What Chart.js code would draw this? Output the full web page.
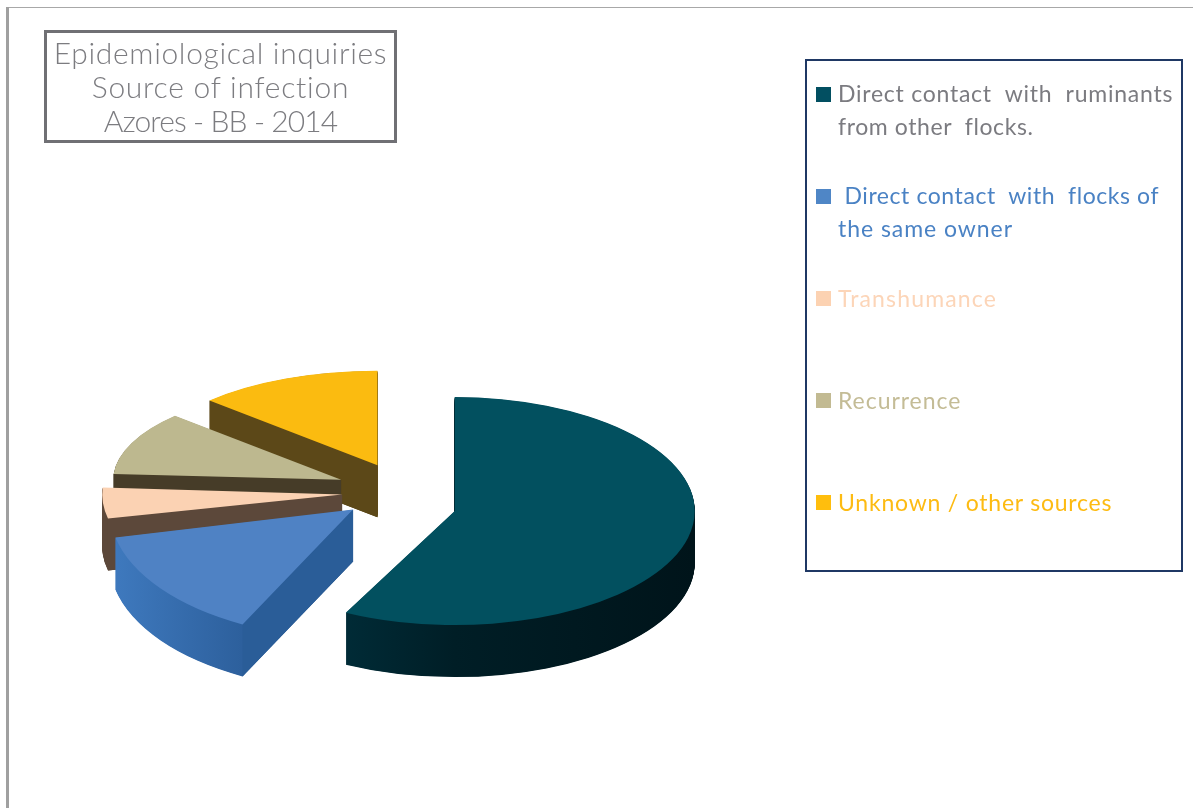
<!DOCTYPE html>
<html>
<head>
<meta charset="utf-8">
<script src="https://cdn.jsdelivr.net/npm/chart.js@4"></script>
<style>
html,body{margin:0;padding:0;background:#fff;overflow:hidden}
#page{position:relative;width:1193px;height:808px;overflow:hidden}
#frameT{position:absolute;left:6px;top:7px;right:0;height:1px;background:#a8a8a8}
#frameL{position:absolute;left:6px;top:7px;bottom:0;width:3px;background:#a0a0a0}
canvas{position:absolute;left:0;top:0}
#title{position:absolute;left:44px;top:30px;width:347px;height:107px;border:3px solid #707074;box-sizing:content-box;
 font-family:Lato,sans-serif;font-weight:300;font-size:30px;line-height:34px;color:#7c7c80;text-align:center;padding-top:0}
#title div{white-space:nowrap;position:relative;top:2px}
#legendBox{position:absolute;left:805px;top:59px;width:374px;height:509px;border:2px solid #1f3864}
.sw{position:absolute;left:816px;width:15px;height:15px}
.ln{position:absolute;white-space:pre;font-family:Lato,sans-serif;font-size:23px;line-height:30px;height:30px}
</style>
</head>
<body>
<div id="page">
<div id="frameT"></div><div id="frameL"></div>
<canvas id="c" width="1193" height="808"></canvas>
<div id="title"></div>
<div id="legendBox"></div>
</div>
<script>
const titleLines = ["Epidemiological inquiries", "Source of infection", "Azores - BB - 2014"];
const titleSpacing = [0.65, 0.74, -0.9];
const categories = ["Direct contact with ruminants from other flocks.", "Direct contact with flocks of the same owner", "Transhumance", "Recurrence", "Unknown / other sources"];
const shares = [57.5, 14, 4.5, 11, 13];
const topColors = ["#02505f", "#4f82c4", "#fbd2b3", "#bdb88f", "#fbbb10"];
const legendColors = ["#024f61", "#4f86c6", "#fcd2b2", "#c2ba92", "#ffbe0d"];
const legendTextColors = ["#7b7b80", "#4a82c4", "#fcd5b8", "#c4bc96", "#fdbb12"];
const legendLines = [["Direct contact  with  ruminants", "from other  flocks."], [" Direct contact  with  flocks of", "the same owner"], ["Transhumance"], ["Recurrence"], ["Unknown / other sources"]];

// 3D appearance of each slice
const wallStops = [["#003a4a","#001e26","#00141a"], ["#3f7abf","#1e4a80","#2a5d98"], ["#5c483a","#5c483a","#5c483a"], ["#463c28","#463c28","#463c28"], ["#5c4818","#5c4818","#5c4818"]];
const faceColors = ["#00303d", "#2a5d98", "#5c483a", "#463c28", "#5c4818"];
const explode = [46, 72, 68, 75, 82];
const lift = [9, -11, -5, -5, -1];
const tilt = [0.475, 0.53, 0.46, 0.41, 0.41];
const depthScale = [1, 1.015, 1, 0.95, 0.96];
const wallDepth = 52, pieScreenY = 497;

const titleEl = document.getElementById('title');
titleLines.forEach((t, i) => { const d = document.createElement('div'); d.textContent = t; d.style.letterSpacing = titleSpacing[i] + 'px'; titleEl.appendChild(d); });

const page = document.getElementById('page');
const swatchTops = [87, 189, 291, 393, 495];
const lineTops = [[78, 111], [180, 213], [283], [385], [487]];
const lineSpacing = [[0.75, 0.6], [0.57, 0.95], [1.15], [0.95], [0.78]];
legendLines.forEach((lines, i) => {
  const s = document.createElement('div'); s.className = 'sw';
  s.style.top = swatchTops[i] + 'px'; s.style.background = legendColors[i]; page.appendChild(s);
  lines.forEach((t, j) => {
    const l = document.createElement('div'); l.className = 'ln'; l.textContent = t;
    l.style.left = '838px'; l.style.top = lineTops[i][j] + 'px'; l.style.color = legendTextColors[i];
    l.style.letterSpacing = lineSpacing[i][j] + 'px';
    page.appendChild(l);
  });
});

function sliceTransform(ctx, arc, i) {
  const mid = (arc.startAngle + arc.endAngle) / 2, t = explode[i], k = tilt[i], s = depthScale[i];
  ctx.translate(arc.x + t * Math.cos(mid), pieScreenY + k * t * Math.sin(mid) + lift[i]);
  ctx.scale(s, k * s);
  ctx.translate(-arc.x, -arc.y);
}

const pseudo3d = {
  id: 'pseudo3d',
  afterDatasetsUpdate(chart) {
    chart.getDatasetMeta(0).data.forEach((arc, i) => {
      const proto = Object.getPrototypeOf(arc);
      arc.draw = function (ctx) {
        ctx.save();
        sliceTransform(ctx, this, i);
        proto.draw.call(this, ctx);
        ctx.restore();
      };
    });
  },
  beforeDatasetsDraw(chart) {
    const ctx = chart.ctx, arcs = chart.getDatasetMeta(0).data;
    for (let i = arcs.length - 1; i >= 0; i--) {
      const arc = arcs[i], r = arc.outerRadius;
      ctx.save();
      sliceTransform(ctx, arc, i);
      const local = 1 / (tilt[i] * depthScale[i]);
      const g = ctx.createLinearGradient(arc.x - r, 0, arc.x + r, 0);
      g.addColorStop(0, wallStops[i][0]); g.addColorStop(0.5, wallStops[i][1]); g.addColorStop(1, wallStops[i][2]);
      ctx.fillStyle = g;
      for (let d = wallDepth; d > 0; d -= 0.5) {
        const y = arc.y + d * local;
        ctx.beginPath(); ctx.moveTo(arc.x, y);
        ctx.arc(arc.x, y, r, arc.startAngle, arc.endAngle);
        ctx.closePath(); ctx.fill();
      }
      const a = arc.startAngle;
      if (-Math.cos(a) > 0) {
        const px = arc.x + r * Math.cos(a), py = arc.y + r * Math.sin(a), dy = wallDepth * local;
        ctx.fillStyle = faceColors[i];
        ctx.beginPath(); ctx.moveTo(arc.x, arc.y); ctx.lineTo(px, py); ctx.lineTo(px, py + dy); ctx.lineTo(arc.x, arc.y + dy);
        ctx.closePath(); ctx.fill();
      }
      ctx.restore();
    }
  }
};

new Chart(document.getElementById('c'), {
  type: 'pie',
  data: { labels: categories, datasets: [{ data: shares, backgroundColor: topColors, borderWidth: 0 }] },
  options: {
    responsive: false, animation: false,
    events: [],
    layout: { padding: { left: 170, right: 543, top: 164, bottom: 164 } },
    plugins: { legend: { display: false }, title: { display: false }, tooltip: { enabled: false } }
  },
  plugins: [pseudo3d]
});
</script>
</body>
</html>
